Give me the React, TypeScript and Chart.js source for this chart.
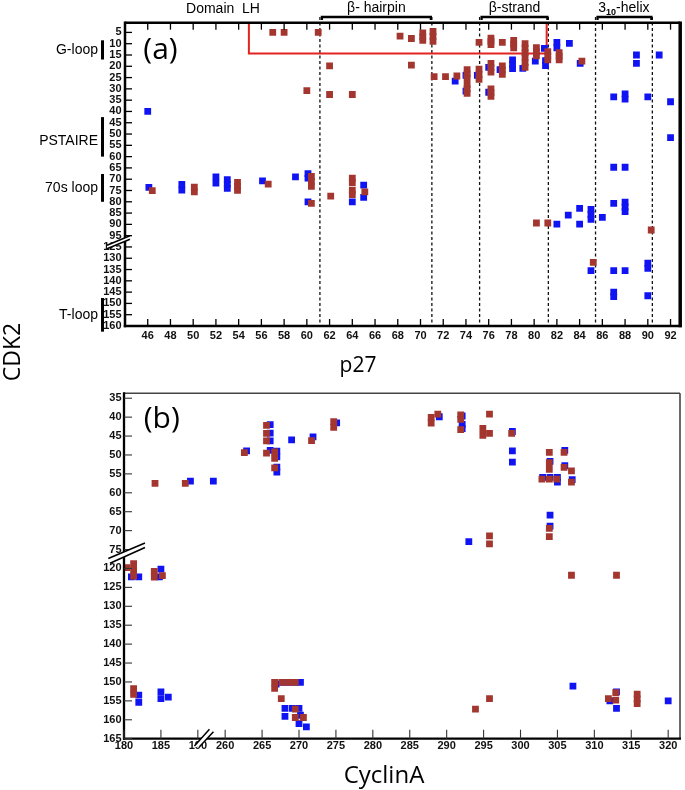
import React, { useEffect, useRef } from "react";
import { Chart, registerables } from "chart.js";
Chart.register(...registerables);

const RED = "#A3362F";
const BLUE = "#1014F2";
const TICK_FONT = { family: '"Liberation Sans", Arial, sans-serif', size: 11, weight: "bold" as const };
const SANS = '"Liberation Sans", Arial, sans-serif';
const TITLE = '"Open Sans", "Liberation Sans", sans-serif';

// ---------- Panel (a): p27 vs CDK2 ----------
const p27Ticks = [46, 48, 50, 52, 54, 56, 58, 60, 62, 64, 66, 68, 70, 72, 74, 76, 78, 80, 82, 84, 86, 88, 90, 92];
const cdk2TicksA = [5, 10, 15, 20, 25, 30, 35, 40, 45, 50, 55, 60, 65, 70, 75, 80, 85, 90, 95, 125, 130, 135, 140, 145, 150, 155, 160];
const structureDividers = [61.15, 71.0, 75.2, 81.25, 85.4, 90.4];
const redBoxP27 = [54.9, 81.1];
const redBoxCdk2Bottom = 14.3;
const cdk2Regions: [string, number, number][] = [
  ["G-loop", 8.5, 17],
  ["PSTAIRE", 42.5, 60],
  ["70s loop", 67.7, 80],
  ["T-loop", 147.6, 162.5],
];

const p27Blue: [number, number][] = [
  [46, 40], [46.1, 73.6],
  [49, 72.3], [49, 74.8],
  [52, 69], [52, 71.7],
  [53, 70.2], [53, 72.2], [53, 74],
  [56.1, 70.7], [59, 69], [60.1, 67.5], [60.1, 69.5], [60.1, 80],
  [64, 80], [65, 72.6], [65, 78],
  [73.05, 26.6], [74, 24], [74, 31], [75, 24], [76, 20.5], [76, 31.5], [77, 21.5],
  [78.1, 17.2], [78.1, 19.2], [78.1, 21],
  [79, 20.9], [80.1, 17.7], [81, 17.5], [81, 19.7], [80.9, 12.1],
  [82, 9.4], [82, 11.8], [83.1, 9.9], [84.05, 18.7],
  [89, 15], [89, 18.7], [91, 15],
  [87, 33.5], [88, 32.2], [88, 34.5], [90, 33.5], [92, 35.7], [92, 51.6],
  [87, 64.7], [88, 64.7],
  [87, 80.7], [88, 80.2], [88, 82.3], [88, 84.4],
  [84, 82.9], [83, 85.9], [85, 83.4], [85, 85.6], [85, 87.8], [86, 86.9],
  [82, 89.9], [84, 89.9],
  [85, 135.5], [87, 135.5], [88, 135.5], [90, 132.2], [90, 134.5],
  [87, 145], [87, 147], [90, 146.6],
];

const p27Red: [number, number][] = [
  [57, 5], [58, 5], [61, 5],
  [62, 19.8], [60, 30.8], [62, 32.5], [64, 32.5],
  [68.2, 6.6], [69.2, 7.7],
  [70.2, 5.2], [70.2, 7], [70.2, 8.5],
  [71.1, 4.6], [71.1, 6.8], [71.1, 9],
  [69.2, 19.5],
  [71.2, 24.6], [72.2, 24.6], [73.2, 24.3],
  [74.1, 21.5], [74.1, 23.5], [74.1, 25],
  [74.1, 28], [74.1, 30], [74.1, 32],
  [75.15, 9.4],
  [75.15, 21.3], [75.15, 23.7], [75.15, 25.8],
  [76.2, 7.5], [76.2, 9], [76.2, 10.4],
  [76.2, 18.7], [76.2, 20.6], [76.2, 22.6],
  [76.2, 30], [76.2, 31.7], [76.2, 33.3],
  [77.2, 9.4],
  [77.2, 19.8], [77.2, 21.7], [77.2, 23.6],
  [78.2, 8.5], [78.2, 10.2], [78.2, 11.8],
  [79.2, 10], [79.2, 12], [79.2, 14], [79.2, 16],
  [79.2, 18.4], [79.2, 20.5],
  [80.2, 11.8], [80.2, 13.6], [80.2, 15.4],
  [81.2, 13.5], [81.2, 15.4], [81.2, 17.2],
  [82.2, 14], [82.2, 15.6], [82.2, 17.2],
  [84.2, 17.7],
  [46.4, 75.1],
  [50.1, 73.5], [50.1, 75.6],
  [53.9, 71.4], [53.9, 73.2], [53.9, 74.9],
  [56.6, 72.2],
  [60.4, 68.8], [60.4, 71], [60.4, 73.2],
  [60.4, 80.7], [62.1, 77.5],
  [64, 69.5], [64, 71.5], [64, 74.8], [64, 76.8],
  [65.1, 75.6],
  [80.2, 89.4], [81.2, 89.4], [90.3, 92.5],
  [85.2, 131.8],
];

// ---------- Panel (b): CyclinA vs CDK2 ----------
const cyclinTicks = [180, 185, 190, 260, 265, 270, 275, 280, 285, 290, 295, 300, 305, 310, 315, 320];
const cdk2TicksB = [35, 40, 45, 50, 55, 60, 65, 70, 75, 120, 125, 130, 135, 140, 145, 150, 155, 160, 165];

const cycBlue: [number, number][] = [
  [189, 56.9], [258.4, 56.9],
  [262.9, 48.9],
  [266.1, 42], [266.1, 44.2], [266.1, 46.3],
  [266.1, 48.8], [267, 49], [267, 50.5],
  [267, 53.2], [267, 54.5],
  [269, 46], [271.9, 45.2], [275.1, 41.5],
  [181, 122.2], [182, 122.2], [185, 120.2], [184.8, 122.2],
  [289, 39.9], [292.1, 39.7], [292.1, 41.9], [292.1, 43],
  [298.9, 43.8], [298.9, 48.9], [298.9, 51.9],
  [306, 48.8], [304, 51.7], [306, 52.8],
  [303, 55.9], [304, 55.9], [305, 55.9], [305, 57.2], [307, 56.5],
  [304, 65.9], [304, 68.8],
  [293, 72.9],
  [182, 153.5], [182, 155.4], [185, 152.6], [185, 154.4], [186, 154],
  [266.9, 150.6], [267.7, 150.1], [268.6, 150.1], [269.5, 150.1], [270.2, 150.1],
  [268.1, 157], [269.1, 157], [270, 157], [268.1, 159.1], [270.2, 158.8], [270, 161], [271, 161.9],
  [307.1, 151.1], [312.1, 155], [313, 152.6], [313, 157], [320, 155],
];

const cycRed: [number, number][] = [
  [184.2, 57.5], [188.3, 57.5],
  [262.6, 49.4],
  [265.6, 42.2], [265.6, 44.3], [265.6, 46.3], [265.6, 49.5],
  [266.7, 49.2], [266.7, 50.9], [266.7, 53.4],
  [271.7, 46.2], [274.7, 41.2], [274.7, 42.7],
  [180.4, 119.8], [181.3, 118.7], [181.3, 120.4], [181.3, 122],
  [184.1, 120.8], [184.1, 122.3], [185.2, 121.9],
  [287.9, 40.1], [287.9, 41.6], [288.8, 39.2],
  [291.9, 39.4], [291.9, 40.6], [291.9, 43.3],
  [295.8, 39.2], [294.9, 43], [294.9, 44.8], [295.8, 44.3], [298.8, 44.3],
  [303.9, 49.3], [305.9, 49.3],
  [303.9, 52], [303.9, 53.8], [305.9, 53.3], [306.9, 54.2],
  [302.9, 56.4], [303.9, 56.4], [304.9, 56.4], [306.9, 57.2],
  [303.9, 69.4], [303.9, 71.6], [295.8, 71.4], [295.8, 73.5],
  [306.9, 121.8], [313, 121.8],
  [181.3, 151.8], [181.3, 153.3],
  [266.7, 150.1], [266.7, 151.7],
  [267.7, 150.1], [268.6, 150.1], [269.5, 150.1],
  [267.6, 154.4],
  [269.5, 157.2], [269.5, 159.4], [270.6, 159.4],
  [295.8, 154.4], [293.9, 157.2],
  [311.9, 154.4], [312.9, 152.8], [312.9, 154.8],
  [315.8, 153.2], [315.8, 154.5], [315.8, 155.7],
];

// broken-axis mappings
const mapA = (y: number) => (y >= 100 ? y - 25 : y);
const unmapA = (u: number) => (u > 97 ? u + 25 : u);
const mapBX = (x: number) => (x >= 250 ? x - 66.3 : x);
const unmapBX = (m: number) => (m > 191.5 ? Math.round(m + 66.3) : Math.round(m));
const mapBY = (y: number) => (y >= 100 ? y - 40 : y);
const unmapBY = (m: number) => (m > 77 ? m + 40 : m);

const hideGrid = { display: false, drawTicks: false };
const noBorder = { display: false };

function line(ctx: any, x1: number, y1: number, x2: number, y2: number) {
  ctx.beginPath();
  ctx.moveTo(x1, y1);
  ctx.lineTo(x2, y2);
  ctx.stroke();
}

function breakMark(ctx: any, a1: number[], a2: number[], b1: number[], b2: number[]) {
  ctx.save();
  ctx.fillStyle = "#fff";
  ctx.beginPath();
  ctx.moveTo(a1[0], a1[1]);
  ctx.lineTo(a2[0], a2[1]);
  ctx.lineTo(b2[0], b2[1]);
  ctx.lineTo(b1[0], b1[1]);
  ctx.closePath();
  ctx.fill();
  ctx.strokeStyle = "#000";
  ctx.lineWidth = 1.5;
  line(ctx, a1[0], a1[1], a2[0], a2[1]);
  line(ctx, b1[0], b1[1], b2[0], b2[1]);
  ctx.restore();
}

const panelAPlugin = {
  id: "panelA",
  beforeDatasetsDraw(chart: any) {
    const { ctx, chartArea: ca, scales } = chart;
    const x = scales.x, y = scales.y;
    ctx.save();
    ctx.strokeStyle = "#111";
    ctx.lineWidth = 1.3;
    ctx.setLineDash([3, 2.5]);
    for (const d of structureDividers) {
      const px = x.getPixelForValue(d);
      line(ctx, px, 17, px, ca.bottom);
    }
    ctx.setLineDash([]);
    ctx.strokeStyle = "#E3231F";
    ctx.lineWidth = 2;
    const x0 = x.getPixelForValue(redBoxP27[0]);
    const x1 = x.getPixelForValue(redBoxP27[1]);
    const yb = y.getPixelForValue(redBoxCdk2Bottom);
    ctx.beginPath();
    ctx.moveTo(x0, ca.top);
    ctx.lineTo(x0, yb);
    ctx.lineTo(x1, yb);
    ctx.lineTo(x1, ca.top);
    ctx.stroke();
    ctx.restore();
  },
  afterDraw(chart: any) {
    const { ctx, chartArea: ca, scales } = chart;
    const x = scales.x, y = scales.y;
    ctx.save();
    ctx.strokeStyle = "#000";
    ctx.lineWidth = 2.5;
    line(ctx, ca.left, ca.top, ca.right, ca.top);
    line(ctx, ca.left, ca.top - 1.2, ca.left, ca.bottom + 1.2);
    line(ctx, ca.left - 1.2, ca.bottom, ca.right + 1.5, ca.bottom);
    ctx.lineWidth = 3.5;
    line(ctx, ca.right, ca.top - 1.2, ca.right, ca.bottom + 1.2);
    ctx.lineWidth = 1.3;
    for (const t of p27Ticks) {
      const px = x.getPixelForValue(t);
      line(ctx, px, ca.bottom, px, ca.bottom - 7);
      line(ctx, px, ca.top, px, ca.top + 7);
    }
    for (const t of cdk2TicksA) {
      const py = y.getPixelForValue(mapA(t));
      line(ctx, ca.left, py, ca.left + 7, py);
    }
    const pb = y.getPixelForValue(97.5);
    breakMark(ctx, [ca.left - 18, pb + 4], [ca.left + 5, pb - 5.5], [ca.left - 18, pb + 7.5], [ca.left + 5, pb - 2]);
    ctx.fillStyle = "#000";
    ctx.font = `14px ${SANS}`;
    ctx.textBaseline = "alphabetic";
    ctx.textAlign = "center";
    ctx.fillText("Domain  LH", 223, 12.5);
    const bars: [string, number, number][] = [
      ["β- hairpin", structureDividers[0], structureDividers[1]],
      ["β-strand", structureDividers[2], structureDividers[3]],
      ["", structureDividers[4], structureDividers[5]],
    ];
    ctx.lineWidth = 2.3;
    for (const [lab, a, b] of bars) {
      const xa = x.getPixelForValue(a) + 2;
      const xb = x.getPixelForValue(b) - 1;
      ctx.beginPath();
      ctx.moveTo(xa, 20);
      ctx.lineTo(xa, 17);
      ctx.lineTo(xb, 17);
      ctx.lineTo(xb, 20);
      ctx.stroke();
      if (lab) ctx.fillText(lab, (xa + xb) / 2, 12);
    }
    {
      const cx = (x.getPixelForValue(structureDividers[4]) + x.getPixelForValue(structureDividers[5])) / 2;
      ctx.textAlign = "left";
      ctx.font = `14px ${SANS}`;
      const w1 = ctx.measureText("3").width;
      const w3 = ctx.measureText("-helix").width;
      ctx.font = `bold 9px ${SANS}`;
      const w2 = ctx.measureText("10").width;
      const sx = cx - (w1 + w2 + w3) / 2;
      ctx.font = `14px ${SANS}`;
      ctx.fillText("3", sx, 12);
      ctx.font = `bold 9px ${SANS}`;
      ctx.fillText("10", sx + w1, 15);
      ctx.font = `14px ${SANS}`;
      ctx.fillText("-helix", sx + w1 + w2, 12);
    }
    ctx.textAlign = "right";
    ctx.textBaseline = "middle";
    ctx.font = `14px ${SANS}`;
    ctx.lineWidth = 3;
    for (const [lab, a, b] of cdk2Regions) {
      const ya = y.getPixelForValue(mapA(a));
      const yb = y.getPixelForValue(mapA(b));
      line(ctx, 102.5, ya, 102.5, yb);
      ctx.fillText(lab, 98, (ya + yb) / 2 + (lab === "PSTAIRE" ? 4 : 0));
    }
    ctx.textAlign = "center";
    ctx.textBaseline = "alphabetic";
    ctx.font = `30px ${TITLE}`;
    ctx.fillText("(a)", 160.5, 59);
    ctx.font = `21px ${TITLE}`;
    ctx.fillText("p27", 358, 371.5);
    ctx.save();
    ctx.translate(20, 352);
    ctx.rotate(-Math.PI / 2);
    ctx.font = `23px ${TITLE}`;
    ctx.fillText("CDK2", 0, 0);
    ctx.restore();
    ctx.restore();
  },
};

const panelBPlugin = {
  id: "panelB",
  afterDraw(chart: any) {
    const { ctx, chartArea: ca, scales } = chart;
    const x = scales.x, y = scales.y;
    ctx.save();
    ctx.strokeStyle = "#444";
    ctx.lineWidth = 1.6;
    line(ctx, ca.left, ca.top, ca.right, ca.top);
    line(ctx, ca.right, ca.top, ca.right, ca.bottom);
    ctx.strokeStyle = "#000";
    ctx.lineWidth = 2.3;
    line(ctx, ca.left, ca.top - 1, ca.left, ca.bottom + 1);
    line(ctx, ca.left - 1, ca.bottom, ca.right + 1, ca.bottom);
    ctx.strokeStyle = "#333";
    ctx.lineWidth = 1.1;
    for (const t of cyclinTicks) {
      const px = x.getPixelForValue(mapBX(t));
      line(ctx, px, ca.bottom, px, ca.bottom - 9);
    }
    for (const t of cdk2TicksB) {
      const py = y.getPixelForValue(mapBY(t));
      line(ctx, ca.left, py, ca.left + 8, py);
    }
    const p75 = y.getPixelForValue(75);
    breakMark(ctx, [ca.left - 15.7, p75 + 9], [ca.left + 21, p75 - 6.6], [ca.left - 14, p75 + 13.7], [ca.left + 21, p75 - 2]);
    const p190 = x.getPixelForValue(190);
    breakMark(ctx, [p190 - 3.4, ca.bottom + 7.3], [p190 + 11.6, ca.bottom - 9.4], [p190 + 1.6, ca.bottom + 8], [p190 + 15.6, ca.bottom - 7]);
    ctx.fillStyle = "#000";
    ctx.textAlign = "center";
    ctx.textBaseline = "alphabetic";
    ctx.font = `30px ${TITLE}`;
    ctx.fillText("(b)", 161.7, 428);
    ctx.font = `24px ${TITLE}`;
    ctx.fillText("CyclinA", 384, 783);
    ctx.restore();
  },
};

function pointSet(label: string, data: any[], color: string, order: number) {
  return {
    label,
    data,
    backgroundColor: color,
    borderColor: color,
    borderWidth: 0,
    pointStyle: "rect",
    pointRadius: 4.8,
    pointHoverRadius: 4.8,
    order,
  };
}

function configA(): any {
  return {
    type: "scatter",
    data: {
      datasets: [
        pointSet("p27 red", p27Red.map(([px, py]) => ({ x: px, y: mapA(py) })), RED, 0),
        pointSet("p27 blue", p27Blue.map(([px, py]) => ({ x: px, y: mapA(py) })), BLUE, 1),
      ],
    },
    options: {
      responsive: false,
      animation: false,
      devicePixelRatio: 1,
      layout: { padding: { left: 0, top: 22.7, right: 3, bottom: 434 } },
      plugins: { legend: { display: false }, tooltip: { enabled: false } },
      events: [],
      scales: {
        x: {
          type: "linear",
          min: 44,
          max: 92.85,
          grid: hideGrid,
          border: noBorder,
          afterBuildTicks: (s: any) => { s.ticks = p27Ticks.map((v) => ({ value: v })); },
          afterFit: (s: any) => { s.height = 30; },
          ticks: { font: TICK_FONT, color: "#111", padding: 3, autoSkip: false, maxRotation: 0, callback: (v: any) => String(v) },
        },
        y: {
          type: "linear",
          reverse: true,
          min: 0.7,
          max: 135,
          grid: hideGrid,
          border: noBorder,
          afterBuildTicks: (s: any) => { s.ticks = cdk2TicksA.map((v) => ({ value: mapA(v) })); },
          afterFit: (s: any) => { s.width = 125; },
          ticks: { font: TICK_FONT, color: "#111", padding: 3.5, autoSkip: false, callback: (v: any) => String(Math.round(unmapA(v))) },
        },
      },
    },
    plugins: [panelAPlugin],
  };
}

function configB(): any {
  return {
    type: "scatter",
    data: {
      datasets: [
        pointSet("CyclinA red", cycRed.map(([px, py]) => ({ x: mapBX(px), y: mapBY(py) })), RED, 0),
        pointSet("CyclinA blue", cycBlue.map(([px, py]) => ({ x: mapBX(px), y: mapBY(py) })), BLUE, 1),
      ],
    },
    options: {
      responsive: false,
      animation: false,
      devicePixelRatio: 1,
      layout: { padding: { left: 0, top: 393.3, right: 5, bottom: 21.3 } },
      plugins: { legend: { display: false }, tooltip: { enabled: false } },
      events: [],
      scales: {
        x: {
          type: "linear",
          min: 180,
          max: 255.3,
          grid: hideGrid,
          border: noBorder,
          afterBuildTicks: (s: any) => { s.ticks = cyclinTicks.map((v) => ({ value: mapBX(v) })); },
          afterFit: (s: any) => { s.height = 30; },
          ticks: { font: TICK_FONT, color: "#111", padding: 1, autoSkip: false, maxRotation: 0, callback: (v: any) => String(unmapBX(v)) },
        },
        y: {
          type: "linear",
          reverse: true,
          min: 33.7,
          max: 125,
          grid: hideGrid,
          border: noBorder,
          afterBuildTicks: (s: any) => { s.ticks = cdk2TicksB.map((v) => ({ value: mapBY(v) })); },
          afterFit: (s: any) => { s.width = 124; },
          ticks: { font: TICK_FONT, color: "#111", padding: 2.5, autoSkip: false, callback: (v: any) => String(Math.round(unmapBY(v))) },
        },
      },
    },
    plugins: [panelBPlugin],
  };
}

export default function App() {
  const refA = useRef<HTMLCanvasElement>(null);
  const refB = useRef<HTMLCanvasElement>(null);
  useEffect(() => {
    const a = new Chart(refA.current as HTMLCanvasElement, configA());
    const b = new Chart(refB.current as HTMLCanvasElement, configB());
    return () => {
      a.destroy();
      b.destroy();
    };
  }, []);
  const cs: React.CSSProperties = { position: "absolute", left: 0, top: 0, width: "685px", height: "790px", display: "block" };
  return (
    <div style={{ position: "absolute", left: 0, top: 0, width: 685, height: 790, background: "#fff", overflow: "hidden" }}>
      <canvas ref={refA} width={685} height={790} style={cs} />
      <canvas ref={refB} width={685} height={790} style={cs} />
    </div>
  );
}
